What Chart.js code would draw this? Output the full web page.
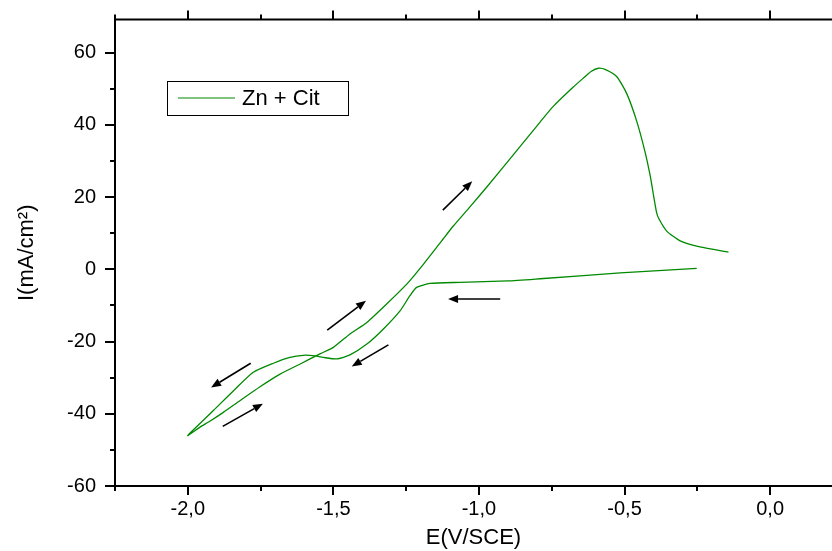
<!DOCTYPE html>
<html>
<head>
<meta charset="utf-8">
<script src="https://cdn.jsdelivr.net/npm/chart.js@4.4.1/dist/chart.umd.min.js"></script>
<style>
  html, body { margin: 0; padding: 0; background: #fff; overflow: hidden; }
</style>
</head>
<body>
<canvas id="cv" width="832" height="551"></canvas>
<script>
// cyclic voltammogram, cathodic sweep first then anodic return
const potential = [
  -0.252, -0.515, -0.79, -0.90, -1.065, -1.168, -1.214, -1.237, -1.271, -1.328,
  -1.385, -1.443, -1.488, -1.534, -1.570, -1.603, -1.649, -1.706, -1.775, -1.843,
  -1.912, -2.0,
  -1.958, -1.923, -1.878, -1.820, -1.752, -1.683, -1.614, -1.546, -1.500, -1.443,
  -1.385, -1.317, -1.248, -1.191, -1.128, -1.088, -1.031, -0.973, -0.859, -0.79,
  -0.744, -0.676, -0.641, -0.615, -0.59, -0.565, -0.527, -0.492, -0.458, -0.430,
  -0.412, -0.401, -0.390, -0.382, -0.355, -0.309, -0.241, -0.143
];
const current = [
  0.3, -1.0, -2.6, -3.2, -3.6, -3.9, -5.0, -7.3, -11.5, -16.5,
  -20.7, -23.7, -24.8, -24.4, -23.9, -23.8, -24.4, -26.0, -28.5, -33.6,
  -39.1, -46.0,
  -43.7, -42.0, -39.6, -36.3, -32.5, -29.0, -26.2, -23.4, -21.6, -17.9,
  -14.7, -9.6, -4.1, 1.4, 7.9, 12.0, 17.3, 22.8, 34.0, 40.8,
  45.2, 50.5, 53.0, 54.8, 55.7, 55.3, 53.4, 48.6, 41.0, 32.7,
  26.0, 20.8, 15.8, 14.0, 10.6, 7.9, 6.2, 4.8
];
const seriesName = "Zn + Cit";

// sweep direction arrows (tail -> head), in E / I units
const arrowFromE = [-1.124, -0.927, -1.311, -1.784, -1.880, -1.521];
const arrowFromI = [16.4, -8.2, -20.9, -26.0, -43.5, -16.8];
const arrowToE   = [-1.023, -1.106, -1.437, -1.920, -1.742, -1.388];
const arrowToI   = [24.4, -8.2, -26.9, -32.7, -37.2, -8.7];

const xMin = -2.25, xMax = 0.2126, xStep = 0.25;
const yMin = -60, yMax = 69.2, yStep = 10;

const points = potential.map((e, i) => ({ x: e, y: current[i] }));

function isMajorX(v) { return Math.abs(v * 2 - Math.round(v * 2)) < 1e-6; }
function isMajorY(v) { return Math.abs(v % 20) < 1e-6; }

const framePlugin = {
  id: "frame",
  afterDraw(chart) {
    const c = chart.ctx;
    const a = chart.chartArea;
    const xs = chart.scales.x, ys = chart.scales.y;
    c.save();
    c.strokeStyle = "#000";
    c.lineWidth = 2;
    c.beginPath();
    c.moveTo(a.left, a.top); c.lineTo(a.right, a.top);
    c.moveTo(a.left, a.top - 1); c.lineTo(a.left, a.bottom + 1);
    c.moveTo(a.left - 1, a.bottom); c.lineTo(a.right, a.bottom);
    c.stroke();
    c.beginPath();
    xs.ticks.forEach(t => {
      const px = Math.round(xs.getPixelForValue(t.value));
      const len = isMajorX(t.value) ? 9 : 5;
      c.moveTo(px, a.bottom); c.lineTo(px, a.bottom + len);
      c.moveTo(px, a.top); c.lineTo(px, a.top - len);
    });
    ys.ticks.forEach(t => {
      const py = Math.round(ys.getPixelForValue(t.value));
      const len = isMajorY(t.value) ? 10 : 5;
      c.moveTo(a.left, py); c.lineTo(a.left - len, py);
    });
    c.stroke();

    // arrows
    c.fillStyle = "#000";
    c.lineWidth = 1.6;
    for (let i = 0; i < arrowFromE.length; i++) {
      const x1 = xs.getPixelForValue(arrowFromE[i]), y1 = ys.getPixelForValue(arrowFromI[i]);
      const x2 = xs.getPixelForValue(arrowToE[i]), y2 = ys.getPixelForValue(arrowToI[i]);
      const ang = Math.atan2(y2 - y1, x2 - x1);
      const hl = 10, hw = 4;
      const bx = x2 - hl * Math.cos(ang), by = y2 - hl * Math.sin(ang);
      c.beginPath();
      c.moveTo(x1, y1); c.lineTo(bx, by);
      c.stroke();
      c.beginPath();
      c.moveTo(x2, y2);
      c.lineTo(bx + hw * Math.sin(ang), by - hw * Math.cos(ang));
      c.lineTo(bx - hw * Math.sin(ang), by + hw * Math.cos(ang));
      c.closePath();
      c.fill();
    }

    // legend box
    const ds = chart.data.datasets[0];
    c.lineWidth = 1;
    c.strokeStyle = "#000";
    c.strokeRect(167.5, 81.5, 181, 34);
    c.strokeStyle = ds.borderColor;
    c.lineWidth = 1.2;
    c.beginPath();
    c.moveTo(178, 98); c.lineTo(235, 98);
    c.stroke();
    c.fillStyle = "#000";
    c.font = "22px 'Liberation Sans', Arial, sans-serif";
    c.textBaseline = "middle";
    c.fillText(ds.label, 242, 99);
    c.restore();
  }
};

const chart = new Chart(document.getElementById("cv"), {
  type: "scatter",
  data: {
    datasets: [{
      label: seriesName,
      data: points,
      showLine: true,
      borderColor: "#008a00",
      borderWidth: 1.3,
      pointRadius: 0,
      tension: 0.2,
      fill: false
    }]
  },
  options: {
    responsive: false,
    animation: false,
    layout: { padding: { top: 19.5, right: 0, left: 0, bottom: 0 } },
    plugins: {
      legend: { display: false },
      tooltip: { enabled: false }
    },
    scales: {
      x: {
        type: "linear",
        min: xMin, max: xMax,
        afterFit: s => { s.height = 65; s.paddingLeft = 0; s.paddingRight = 0; },
        grid: { display: false, drawTicks: false },
        border: { display: false },
        ticks: {
          stepSize: xStep,
          includeBounds: false,
          autoSkip: false,
          maxRotation: 0,
          padding: 11,
          color: "#000",
          font: { family: "'Liberation Sans', Arial, sans-serif", size: 20 },
          callback: v => isMajorX(v) ? v.toFixed(1).replace(".", ",") : ""
        },
        title: {
          display: true,
          text: "E(V/SCE)",
          color: "#000",
          font: { family: "'Liberation Sans', Arial, sans-serif", size: 22 },
          padding: { top: 0, bottom: 0 }
        }
      },
      y: {
        type: "linear",
        min: yMin, max: yMax,
        afterFit: s => { s.width = 115; s.paddingTop = 0; s.paddingBottom = 0; },
        grid: { display: false, drawTicks: false },
        border: { display: false },
        ticks: {
          stepSize: yStep,
          includeBounds: false,
          autoSkip: false,
          padding: 19,
          color: "#000",
          font: { family: "'Liberation Sans', Arial, sans-serif", size: 20 },
          callback: v => isMajorY(v) ? String(v) : ""
        },
        title: {
          display: true,
          text: "I(mA/cm²)",
          color: "#000",
          font: { family: "'Liberation Sans', Arial, sans-serif", size: 22 },
          padding: { top: 14, bottom: 0 }
        }
      }
    }
  },
  plugins: [framePlugin]
});
</script>
</body>
</html>
